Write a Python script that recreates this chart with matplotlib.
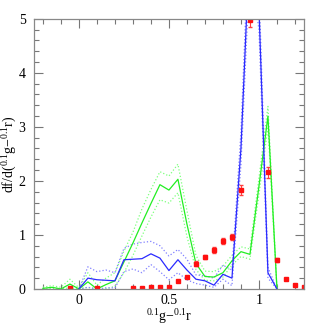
import numpy as np
import matplotlib
matplotlib.use('Agg')
import matplotlib.pyplot as plt
from matplotlib.ticker import MultipleLocator

plt.rcParams['font.family'] = 'Liberation Serif'
plt.rcParams['mathtext.default'] = 'regular'

# colour bins
x_green = [-0.2, -0.15, -0.1, -0.05, 0.0, 0.05, 0.1, 0.15, 0.2, 0.25, 0.3, 0.35, 0.4,
           0.45, 0.5, 0.55, 0.6, 0.65, 0.7, 0.75, 0.8, 0.85, 0.9, 0.95, 1.0, 1.05, 1.1]
green = [0.01, 0.03, 0.0, 0.09, 0.0, 0.13, 0.0, 0.08, 0.15, 0.5, 0.85, 1.22, 1.58,
         1.93, 1.83, 2.03, 1.2, 0.47, 0.23, 0.22, 0.3, 0.52, 0.69, 0.64, 1.9, 3.2, 0.0]
green_hi = [0.03, 0.06, 0.03, 0.18, 0.02, 0.3, 0.07, 0.2, 0.3, 0.7, 1.05, 1.48, 1.84,
            2.17, 2.09, 2.31, 1.45, 0.62, 0.33, 0.32, 0.42, 0.62, 0.78, 0.74, 2.05, 3.38, 0.0]
green_lo = [0.0, 0.01, 0.0, 0.02, 0.0, 0.03, 0.0, 0.0, 0.05, 0.3, 0.62, 0.98, 1.33,
            1.65, 1.59, 1.78, 0.97, 0.36, 0.16, 0.15, 0.22, 0.44, 0.6, 0.55, 1.75, 3.0, 0.0]

x_blue = [0.0, 0.05, 0.1, 0.15, 0.2, 0.25, 0.3, 0.35, 0.4, 0.45, 0.5, 0.55, 0.6,
          0.65, 0.7, 0.75, 0.8, 0.85, 0.9, 0.95, 1.0, 1.05, 1.1]
blue = [0.0, 0.2, 0.17, 0.16, 0.15, 0.54, 0.55, 0.56, 0.65, 0.57, 0.34, 0.54, 0.35,
        0.18, 0.15, 0.07, 0.27, 0.2, 2.6, 6.5, 5.2, 0.3, 0.0]
blue_hi = [0.0, 0.41, 0.32, 0.35, 0.3, 0.75, 0.83, 0.86, 0.88, 0.8, 0.61, 0.73, 0.55,
           0.26, 0.24, 0.2, 0.44, 0.35, 2.9, 7.0, 5.6, 0.4, 0.0]
blue_lo = [0.0, 0.03, 0.0, 0.02, 0.02, 0.32, 0.37, 0.3, 0.45, 0.32, 0.17, 0.3, 0.17,
           0.1, 0.07, 0.03, 0.18, 0.06, 2.3, 6.0, 4.8, 0.2, 0.0]

# observed points
x_obs = [-0.05, 0.1, 0.3, 0.35, 0.4, 0.45, 0.5, 0.55, 0.6, 0.65, 0.7, 0.75, 0.8,
         0.85, 0.9, 0.95, 1.0, 1.05, 1.1, 1.15, 1.2, 1.25]
obs = [0.02, 0.01, 0.02, 0.01, 0.03, 0.04, 0.04, 0.14, 0.22, 0.47, 0.59, 0.72, 0.89,
       0.96, 1.83, 4.98, 7.0, 2.16, 0.53, 0.19, 0.07, 0.03]
obs_err = [0.01, 0.01, 0.01, 0.01, 0.01, 0.01, 0.01, 0.02, 0.02, 0.04, 0.04, 0.05, 0.05,
           0.05, 0.09, 0.14, 0.2, 0.1, 0.04, 0.02, 0.01, 0.01]

fig = plt.figure(figsize=(3.14, 3.25), dpi=100)
ax = fig.add_axes([0.108, 0.111, 0.86, 0.831])

ax.plot(x_green, green_hi, color='#7dff7d', lw=0.9, ls=':')
ax.plot(x_green, green_lo, color='#7dff7d', lw=0.9, ls=':')
ax.plot(x_blue, blue_hi, color='#8080ff', lw=0.9, ls=':')
ax.plot(x_blue, blue_lo, color='#8080ff', lw=0.9, ls=':')
ax.plot(x_green, green, color='#22ee22', lw=0.9)
ax.plot(x_blue, blue, color='#2a2aff', lw=0.9)
ax.errorbar(x_obs, obs, yerr=obs_err, fmt='s', color='#ff1010', ms=2.2,
            elinewidth=0.8, capsize=1.5, ecolor='#ff4040')

ax.set_xlim(-0.25, 1.25)
ax.set_ylim(0, 5)
ax.xaxis.set_major_locator(MultipleLocator(0.5))
ax.xaxis.set_minor_locator(MultipleLocator(0.1))
ax.yaxis.set_major_locator(MultipleLocator(1))
ax.yaxis.set_minor_locator(MultipleLocator(0.2))
ax.set_xticks([0, 0.5, 1])
ax.set_xticklabels(['0', '0.5', '1'])
ax.tick_params(which='both', direction='in', top=True, right=True,
               color='#777777', labelsize=10, pad=6)
ax.tick_params(axis='x', pad=3.5)
ax.tick_params(which='major', length=6.5, width=0.8)
ax.tick_params(which='minor', length=3.6, width=0.8)
for s in ax.spines.values():
    s.set_color('#888888')
    s.set_linewidth(0.9)

ax.set_xlabel(r'$^{0.1}$g$-$$^{0.1}$r', fontsize=10)
ax.set_ylabel(r'df/d($^{0.1}$g$-$$^{0.1}$r)', fontsize=10)
ax.xaxis.set_label_coords(0.5, -0.068)
ax.yaxis.set_label_coords(-0.055, 0.5)

plt.savefig('out.png', dpi=100)
